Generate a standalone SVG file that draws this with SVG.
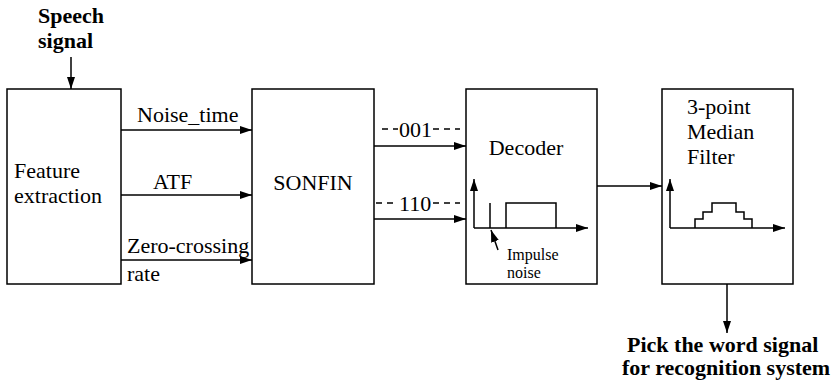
<svg xmlns="http://www.w3.org/2000/svg" width="838" height="382" viewBox="0 0 838 382">
<defs>
<marker id="ah" markerWidth="12" markerHeight="8" refX="12" refY="4" orient="auto" markerUnits="userSpaceOnUse">
<path d="M0,0 L12,4 L0,8 z" fill="#000"/>
</marker>
<style>
.box{fill:#fff;stroke:#000;stroke-width:1.5}
.ln{fill:none;stroke:#000;stroke-width:1.5}
.ds{fill:none;stroke:#000;stroke-width:1.5;stroke-dasharray:6,5}
.t{font-family:"Liberation Serif","Times New Roman",serif;font-size:22px;fill:#000}
.b{font-family:"Liberation Serif","Times New Roman",serif;font-size:22px;font-weight:bold;fill:#000}
.s{font-family:"Liberation Serif","Times New Roman",serif;font-size:16px;fill:#000}
</style>
</defs>
<rect width="838" height="382" fill="#fff"/>
<text class="b" x="38" y="23">Speech</text>
<text class="b" x="38" y="48">signal</text>
<g id="feature">
<rect class="box" x="7" y="89" width="114" height="195"/>
<text class="t" x="14" y="178">Feature</text>
<text class="t" x="14" y="203">extraction</text>
</g>
<g id="sonfin">
<rect class="box" x="252" y="89" width="122" height="195"/>
<text class="t" x="313" y="190" text-anchor="middle">SONFIN</text>
</g>
<g id="decoder">
<rect class="box" x="466" y="89" width="131" height="195"/>
<text class="t" x="526" y="155" text-anchor="middle">Decoder</text>
<path class="ln" d="M474,228 V179" marker-end="url(#ah)"/>
<path class="ln" d="M474,228 H588" marker-end="url(#ah)"/>
<path class="ln" d="M490,228 V203"/>
<path class="ln" d="M506,228 V203 H556 V228"/>
<path class="ln" d="M498,250 L491,230" marker-end="url(#ah)"/>
<text class="s" x="507" y="260">Impulse</text>
<text class="s" x="507" y="278">noise</text>
</g>
<g id="median">
<rect class="box" x="662" y="89" width="131" height="195"/>
<text class="t" x="687" y="114">3-point</text>
<text class="t" x="687" y="139">Median</text>
<text class="t" x="687" y="164">Filter</text>
<path class="ln" d="M670,228 V179" marker-end="url(#ah)"/>
<path class="ln" d="M670,228 H785" marker-end="url(#ah)"/>
<path class="ln" d="M695,228 V219 H703 V212 H712 V203 H736 V212 H744 V219 H752 V228"/>
</g>
<text class="b" x="627" y="352">Pick the word signal</text>
<text class="b" x="622" y="375">for recognition system</text>
<g id="connectors">
<path class="ln" d="M71,57 V89" marker-end="url(#ah)"/>
<path class="ln" d="M121,130 H252" marker-end="url(#ah)"/>
<path class="ln" d="M121,195 H252" marker-end="url(#ah)"/>
<path class="ln" d="M121,260 H252" marker-end="url(#ah)"/>
<path class="ln" d="M374,146 H466" marker-end="url(#ah)"/>
<path class="ln" d="M374,219 H466" marker-end="url(#ah)"/>
<path class="ln" d="M597,186 H662" marker-end="url(#ah)"/>
<path class="ln" d="M727,284 V333" marker-end="url(#ah)"/>
<path class="ds" d="M382,129 H398"/>
<path class="ds" d="M433,129 H460"/>
<path class="ds" d="M376,203 H398"/>
<path class="ds" d="M433,203 H460"/>
</g>
<text class="t" x="137" y="122">Noise_time</text>
<text class="t" x="153" y="189">ATF</text>
<text class="t" x="127" y="253">Zero-crossing</text>
<text class="t" x="127" y="281">rate</text>
<text class="t" x="399" y="137">001</text>
<text class="t" x="399" y="211">110</text>
</svg>
